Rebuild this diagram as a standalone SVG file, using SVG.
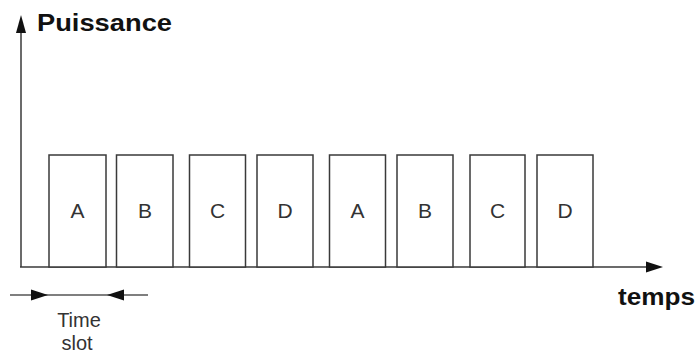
<svg xmlns="http://www.w3.org/2000/svg" width="698" height="354" viewBox="0 0 698 354">
<style>
.box rect{fill:#fff;stroke:#3a3a3a;stroke-width:1.5}
.box text{font-family:"Liberation Sans",Arial,sans-serif;font-size:21px;fill:#333;text-anchor:middle}
.ax{stroke:#3a3a3a;stroke-width:1.5;fill:none}
.lbl{font-family:"Liberation Sans",Arial,sans-serif;font-weight:bold;font-size:23px;fill:#111}
.small{font-family:"Liberation Sans",Arial,sans-serif;font-size:20px;fill:#333;text-anchor:middle}
</style>
<rect width="698" height="354" fill="#fff"/>
<g id="connectors">
<line class="ax" x1="21" y1="30" x2="21" y2="267"/>
<polygon points="21,15 16,33 26,33" fill="#111"/>
<line class="ax" x1="20" y1="267" x2="650" y2="267"/>
<polygon points="663,267 646,261.5 646,272.5" fill="#111"/>
<line x1="10" y1="295" x2="148" y2="295" stroke="#555" stroke-width="1.5"/>
<polygon points="48,295 31,289.5 31,300.5" fill="#111"/>
<polygon points="107,295 124,289.5 124,300.5" fill="#111"/>
</g>
<g id="slot1" class="box"><rect x="49" y="155" width="57" height="112"/><text x="77.5" y="218">A</text></g>
<g id="slot2" class="box"><rect x="116.5" y="155" width="56.5" height="112"/><text x="145" y="218">B</text></g>
<g id="slot3" class="box"><rect x="189.5" y="155" width="56" height="112"/><text x="217.5" y="218">C</text></g>
<g id="slot4" class="box"><rect x="257" y="155" width="56" height="112"/><text x="285" y="218">D</text></g>
<g id="slot5" class="box"><rect x="329.5" y="155" width="56" height="112"/><text x="357.5" y="218">A</text></g>
<g id="slot6" class="box"><rect x="397" y="155" width="56" height="112"/><text x="425" y="218">B</text></g>
<g id="slot7" class="box"><rect x="470" y="155" width="55" height="112"/><text x="497.5" y="218">C</text></g>
<g id="slot8" class="box"><rect x="537" y="155" width="56" height="112"/><text x="565" y="218">D</text></g>
<g id="labels">
<text class="lbl" x="37" y="31" textLength="135" lengthAdjust="spacingAndGlyphs">Puissance</text>
<text class="lbl" x="618" y="305" textLength="77" lengthAdjust="spacingAndGlyphs">temps</text>
<text class="small" x="79" y="327">Time</text>
<text class="small" x="77" y="350">slot</text>
</g>
</svg>
